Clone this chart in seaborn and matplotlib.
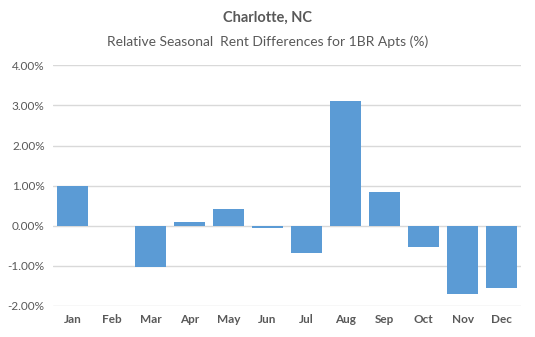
import matplotlib
matplotlib.use("Agg")
import matplotlib.pyplot as plt
import seaborn as sns
import pandas as pd
from matplotlib.ticker import FuncFormatter

months = ["Jan", "Feb", "Mar", "Apr", "May", "Jun", "Jul", "Aug", "Sep", "Oct", "Nov", "Dec"]
values = [1.00, 0.00, -1.04, 0.09, 0.41, -0.05, -0.68, 3.12, 0.85, -0.54, -1.70, -1.55]
yticks = [-2, -1, 0, 1, 2, 3, 4]

df = pd.DataFrame({"month": months, "value": values})

sns.set_theme(style="white")
plt.rcParams['font.family'] = ['Lato', 'DejaVu Sans']

fig = plt.figure(figsize=(5.35, 3.37), dpi=100)
ax = fig.add_axes([0.099, 0.092, 0.875, 0.714])

sns.barplot(data=df, x="month", y="value", color="#5B9BD5", saturation=1,
            width=0.8, edgecolor="none", linewidth=0, ax=ax, zorder=3)

ax.set_ylim(-2, 4)
ax.set_yticks(yticks)
ax.yaxis.set_major_formatter(FuncFormatter(lambda v, p: f"{v:.2f}%"))
ax.set_xlim(-0.5, 11.5)
ax.grid(axis="y", color="#D9D9D9", linewidth=1, zorder=0)
ax.set_axisbelow(True)
for s in ax.spines.values():
    s.set_visible(False)
ax.set_xlabel("")
ax.set_ylabel("")
ax.tick_params(axis="y", length=0, labelsize=8.5, colors="#595959", pad=6)
ax.tick_params(axis="x", length=0, labelsize=8.5, colors="#595959", pad=6)
for lbl in ax.get_xticklabels():
    lbl.set_fontweight("bold")

fig.text(0.5, 1 - 18/337, "Charlotte, NC", ha="center", va="center",
         fontsize=10.5, fontweight="bold", color="#595959")
fig.text(0.5, 1 - 42/337, "Relative Seasonal  Rent Differences for 1BR Apts (%)", ha="center",
         va="center", fontsize=10, color="#595959")

fig.savefig("out.png", dpi=100)
